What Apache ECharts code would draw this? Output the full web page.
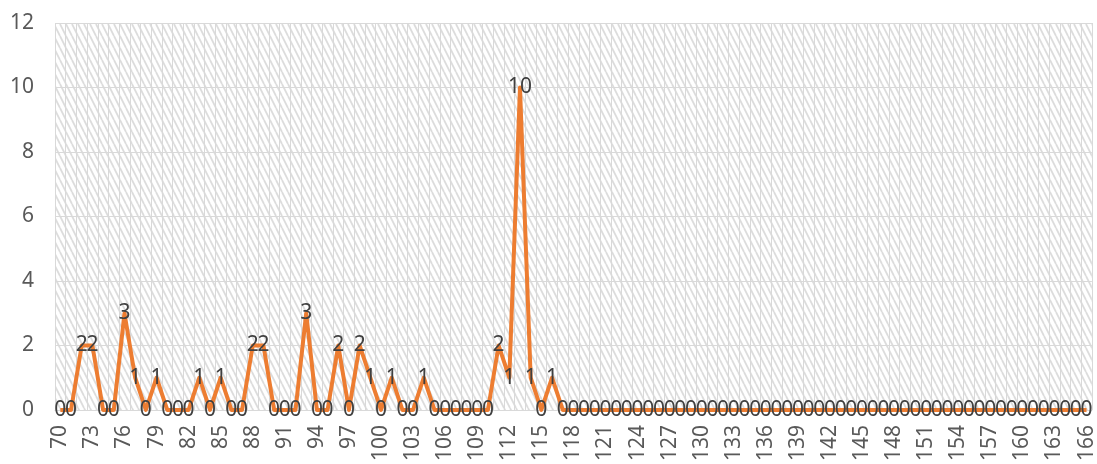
<!DOCTYPE html>
<html>
<head>
<meta charset="utf-8">
<script src="https://cdn.jsdelivr.net/npm/echarts@6/dist/echarts.min.js"></script>
<style>
  html, body { margin: 0; padding: 0; background: #ffffff; }
  #chart { width: 1097px; height: 464px; }
</style>
</head>
<body>
<div id="chart"></div>
<script>
// Categories 70..166
const categories = [
  '70','71','72','73','74','75','76','77','78','79',
  '80','81','82','83','84','85','86','87','88','89',
  '90','91','92','93','94','95','96','97','98','99',
  '100','101','102','103','104','105','106','107','108','109',
  '110','111','112','113','114','115','116','117','118','119',
  '120','121','122','123','124','125','126','127','128','129',
  '130','131','132','133','134','135','136','137','138','139',
  '140','141','142','143','144','145','146','147','148','149',
  '150','151','152','153','154','155','156','157','158','159',
  '160','161','162','163','164','165','166'
];

// Counts per category
const counts = [
  0, 0, 2, 2, 0, 0, 3, 1, 0, 1,
  0, 0, 0, 1, 0, 1, 0, 0, 2, 2,
  0, 0, 0, 3, 0, 0, 2, 0, 2, 1,
  0, 1, 0, 0, 1, 0, 0, 0, 0, 0,
  0, 2, 1, 10, 1, 0, 1, 0, 0, 0,
  0, 0, 0, 0, 0, 0, 0, 0, 0, 0,
  0, 0, 0, 0, 0, 0, 0, 0, 0, 0,
  0, 0, 0, 0, 0, 0, 0, 0, 0, 0,
  0, 0, 0, 0, 0, 0, 0, 0, 0, 0,
  0, 0, 0, 0, 0, 0, 0
];

const yTicks = { min: 0, max: 12, step: 2 };

// Diagonal hatch fill for the plot area
function hatchTile() {
  const c = document.createElement('canvas');
  c.width = 6; c.height = 12;
  const g = c.getContext('2d');
  g.fillStyle = '#ffffff';
  g.fillRect(0, 0, 6, 12);
  g.strokeStyle = '#dcdcdc';
  g.lineWidth = 1.8;
  for (let k = -1; k <= 1; k++) {
    g.beginPath();
    g.moveTo(k * 6, 0);
    g.lineTo(k * 6 + 6, 12);
    g.stroke();
  }
  return c;
}

const font = '"Noto Sans", "Liberation Sans", Arial, sans-serif';
const chart = echarts.init(document.getElementById('chart'), null, { renderer: 'canvas' });

chart.setOption({
  animation: false,
  backgroundColor: '#ffffff',
  grid: {
    left: 55, right: 2, top: 23, bottom: 53,
    show: true,
    borderWidth: 0,
    backgroundColor: { image: hatchTile(), repeat: 'repeat' }
  },
  xAxis: {
    type: 'category',
    data: categories,
    boundaryGap: true,
    axisLine: { show: true, lineStyle: { color: '#d9d9d9', width: 1 } },
    axisTick: { show: false },
    axisLabel: {
      interval: 2,
      rotate: 90,
      margin: 15,
      color: '#595959',
      fontSize: 21,
      fontFamily: font
    },
    splitLine: { show: true, interval: 0, lineStyle: { color: '#d9d9d9', width: 1 } }
  },
  yAxis: {
    type: 'value',
    min: yTicks.min,
    max: yTicks.max,
    interval: yTicks.step,
    axisLine: { show: false },
    axisTick: { show: false },
    axisLabel: {
      color: '#595959', fontSize: 21, fontFamily: font, margin: 21,
      padding: [7, 0, 0, 0]
    },
    splitLine: { show: true, lineStyle: { color: '#d9d9d9', width: 1 } }
  },
  series: [{
    type: 'line',
    data: counts,
    symbol: 'circle',
    symbolSize: 1,
    showSymbol: true,
    itemStyle: { color: 'rgba(0,0,0,0)' },
    lineStyle: { color: '#ED7D31', width: 4, join: 'round' },
    label: {
      show: true,
      position: 'inside',
      offset: [0, 3],
      color: '#404040',
      fontSize: 21,
      fontFamily: font
    },
    labelLayout: { hideOverlap: false },
    emphasis: { disabled: true },
    z: 3
  }]
});
</script>
</body>
</html>
